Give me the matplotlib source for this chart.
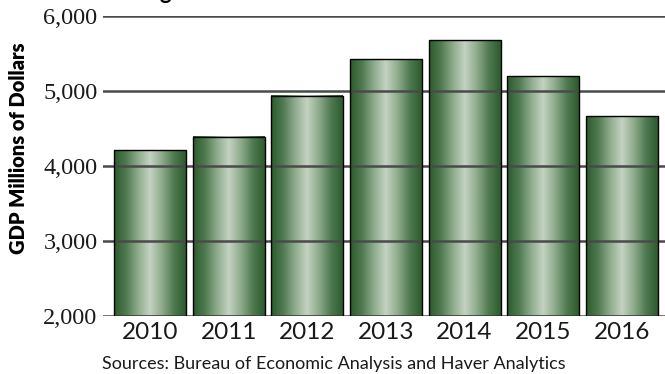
import numpy as np
import matplotlib
matplotlib.use('Agg')
import matplotlib.pyplot as plt
from matplotlib.colors import LinearSegmentedColormap
from matplotlib.patches import Rectangle

years = ['2010', '2011', '2012', '2013', '2014', '2015', '2016']
gdp = [4210, 4390, 4935, 5425, 5680, 5200, 4665]
y_ticks = [2000, 3000, 4000, 5000, 6000]
source_note = 'Sources: Bureau of Economic Analysis and Haver Analytics'
y_label = 'GDP Millions of Dollars'

sans = ['Lato', 'DejaVu Sans']

fig = plt.figure(figsize=(6.65, 3.74), dpi=100)
ax = fig.add_axes([103 / 665, 1 - 316 / 374, 1 - 103 / 665, 300 / 374])

# green "cylinder" shading across each bar
green = LinearSegmentedColormap.from_list(
    'bar', ['#2c5a2d', '#4f7a50', '#8eab8c', '#c4d3c2', '#8eab8c', '#4f7a50', '#2c5a2d'])
grad = np.linspace(0, 1, 256).reshape(1, -1)

width = 0.915
x = np.arange(len(years))
for xi, val in zip(x, gdp):
    ax.imshow(grad, cmap=green, aspect='auto', interpolation='bicubic',
              extent=[xi - width / 2, xi + width / 2, y_ticks[0], val], zorder=1)
    ax.add_patch(Rectangle((xi - width / 2, y_ticks[0]), width, val - y_ticks[0],
                           fill=False, edgecolor='black', linewidth=1.0, zorder=3))

for t in y_ticks:
    ax.axhline(t, color='#4a4a4a', linewidth=1.8, zorder=2)

ax.set_xlim(-0.6, 6.55)
ax.set_ylim(y_ticks[0], y_ticks[-1])
ax.set_xticks(x)
ax.set_xticklabels(years, family=sans, fontsize=17.5)
ax.set_yticks(y_ticks)
ax.set_yticklabels([f'{t:,}' for t in y_ticks], family='Liberation Serif', fontsize=17.5)
ax.tick_params(axis='both', length=0, colors='#1a1a1a')
ax.tick_params(axis='y', pad=4)
ax.tick_params(axis='x', pad=4)
for s in ax.spines.values():
    s.set_visible(False)

fig.text(19 / 665, 1 - 148 / 374, y_label, rotation=90, ha='center', va='center',
         family=sans, fontweight='heavy', fontsize=14.5, color='black')
fig.text(102 / 665, 1 - 369 / 374, source_note, ha='left', va='baseline',
         family=sans, fontsize=13, color='#1a1a1a')
# descender of the clipped title
fig.text(165 / 665, 1 + 1 / 374, 'g', ha='center', va='baseline',
         family=sans, fontweight='bold', fontsize=16, color='black')

fig.savefig('out.png', dpi=100)
